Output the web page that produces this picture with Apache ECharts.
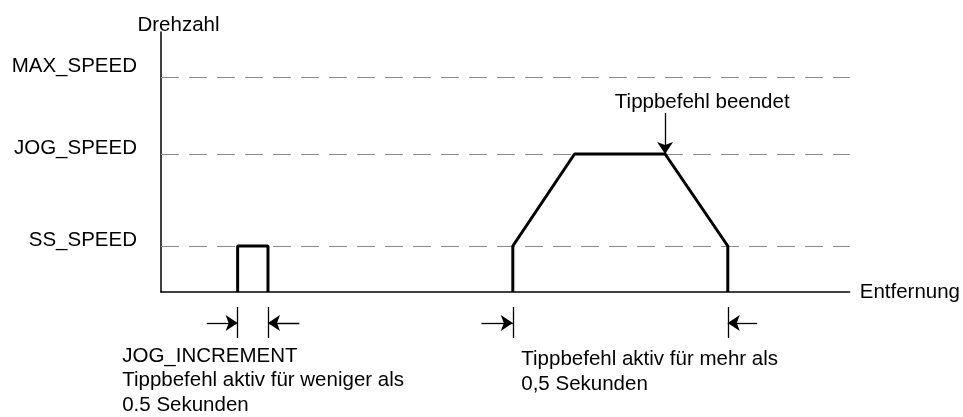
<!DOCTYPE html>
<html>
<head>
<meta charset="utf-8">
<script src="https://cdn.jsdelivr.net/npm/echarts@6/dist/echarts.min.js"></script>
<style>
  html, body { margin: 0; padding: 0; background: #fff; }
  #chart { width: 963px; height: 417px; }
</style>
</head>
<body>
<div id="chart"></div>
<script>
// Achsen in frei gewählten Einheiten (Entfernung / Drehzahl)
const xMax = 69.2
const yMax = 26

// Drehzahl-Stufen
const speedNames = ['SS_SPEED', 'JOG_SPEED', 'MAX_SPEED']
const speedValues = [4.6, 13.8, 21.5]

// Tippbetrieb < 0,5 s  (JOG_INCREMENT)
const jogPulse = [[7.7, 0], [7.7, 4.6], [10.75, 4.6], [10.75, 0]]
// Tippbetrieb > 0,5 s
const jogMove = [[35.35, 0], [35.35, 4.6], [41.55, 13.8], [50.65, 13.8], [56.95, 4.6], [56.95, 0]]

// Bemaßung unter der Achse
const limitX = [7.7, 10.75, 35.35, 56.95]
const limitY = [-1.5, -4.6]
const dimArrows = [[4.6, 7.7], [13.9, 10.75], [32.2, 35.35], [59.9, 56.95]]
const dimY = -3.1
// Pfeil "Tippbefehl beendet"
const endArrow = [[50.65, 17.9], [50.65, 13.8]]

// Beschriftungen
const notes = [
    { text: 'Tippbefehl beendet', coord: [45.6, 19.0] },
    { text: 'JOG_INCREMENT\nTippbefehl aktiv für weniger als\n0.5 Sekunden', coord: [-3.9, -8.85] },
    { text: 'Tippbefehl aktiv für mehr als\n0,5 Sekunden', coord: [36.2, -8.0] }
]

const font = 'Liberation Sans, Arial, sans-serif'
const fontSize = 20.5
const chart = echarts.init(document.getElementById('chart'))

const arrowLines = dimArrows.map(function (a) {
    return { coords: [[a[0], dimY], [a[1], dimY]] }
})
arrowLines.push({ coords: endArrow })

const tickLines = limitX.map(function (x) {
    return { coords: [[x, limitY[0]], [x, limitY[1]]] }
})

const option = {
    animation: false,
    backgroundColor: '#fff',
    grid: {
        left: 161,
        top: 32,
        width: 692,
        height: 260
    },
    xAxis: {
        type: 'value',
        min: 0,
        max: xMax,
        name: 'Entfernung',
        nameLocation: 'end',
        nameGap: 10,
        nameTextStyle: {
            fontFamily: font,
            fontSize: fontSize,
            color: '#000'
        },
        axisLine: {
            onZero: false,
            lineStyle: { color: '#000', width: 1.5 }
        },
        axisTick: { show: false },
        axisLabel: { show: false },
        splitLine: { show: false }
    },
    yAxis: {
        type: 'value',
        min: 0,
        max: yMax,
        name: 'Drehzahl',
        nameLocation: 'end',
        nameGap: -4,
        nameTextStyle: {
            fontFamily: font,
            fontSize: fontSize,
            color: '#000',
            align: 'center',
            padding: [0, 0, 0, 35]
        },
        axisLine: {
            show: true,
            lineStyle: { color: '#000', width: 1.5 }
        },
        axisTick: { show: false },
        splitLine: { show: false },
        axisLabel: {
            customValues: speedValues,
            margin: 24,
            fontFamily: font,
            fontSize: fontSize,
            color: '#000',
            formatter: function (v) {
                const i = speedValues.indexOf(v)
                const name = speedNames[i] || ''
                return i === 2 ? '{hi|' + name + '}' : '{lo|' + name + '}'
            },
            rich: {
                hi: { fontFamily: font, fontSize: fontSize, color: '#000', padding: [0, 0, 22, 0] },
                lo: { fontFamily: font, fontSize: fontSize, color: '#000', padding: [0, 0, 11, 0] }
            }
        }
    },
    series: [
        {
            name: 'levels',
            type: 'line',
            data: [],
            silent: true,
            z: 1,
            markLine: {
                silent: true,
                z: 1,
                symbol: ['none', 'none'],
                label: { show: false },
                lineStyle: { color: '#8a8a8a', width: 1, type: [18, 10] },
                data: speedValues.map(function (v) { return { yAxis: v } })
            }
        },
        {
            name: 'pulse',
            type: 'line',
            data: jogPulse,
            showSymbol: false,
            z: 5,
            lineStyle: { color: '#000', width: 3 }
        },
        {
            name: 'move',
            type: 'line',
            data: jogMove,
            showSymbol: false,
            z: 5,
            lineStyle: { color: '#000', width: 3 }
        },
        {
            name: 'ticks',
            type: 'lines',
            coordinateSystem: 'cartesian2d',
            clip: false,
            silent: true,
            symbol: ['none', 'none'],
            lineStyle: { color: '#000', width: 1.3, opacity: 1 },
            data: tickLines
        },
        {
            name: 'arrows',
            type: 'lines',
            coordinateSystem: 'cartesian2d',
            clip: false,
            silent: true,
            z: 6,
            symbol: ['none', 'arrow'],
            symbolSize: [9, 12],
            lineStyle: { color: '#000', width: 1.3, opacity: 1 },
            data: arrowLines
        },
        {
            name: 'notes',
            type: 'scatter',
            clip: false,
            symbolSize: 0,
            silent: true,
            itemStyle: { opacity: 1 },
            data: notes.map(function (n) { return { name: n.text, value: n.coord } }),
            label: {
                show: true,
                position: 'right',
                distance: 0,
                formatter: '{b}',
                fontFamily: font,
                fontSize: fontSize,
                lineHeight: 24.5,
                color: '#000',
                opacity: 1,
                align: 'left',
                verticalAlign: 'middle'
            }
        }
    ]
}

chart.setOption(option)
</script>
</body>
</html>
